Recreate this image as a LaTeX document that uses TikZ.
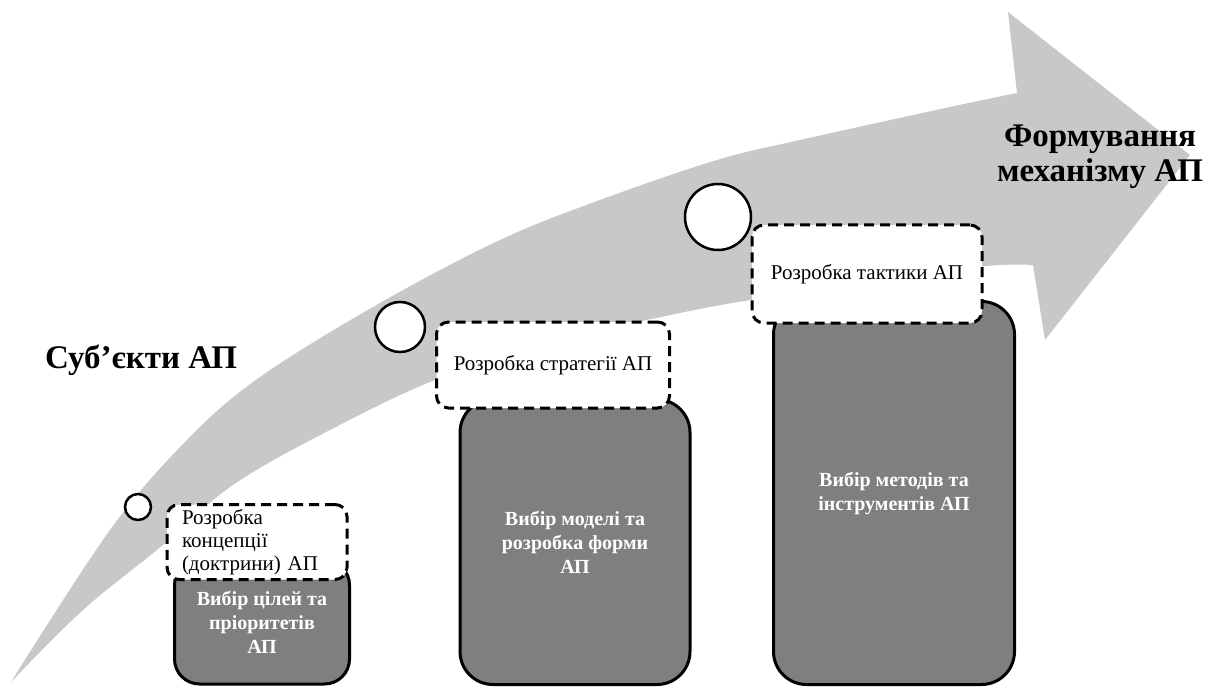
\documentclass[tikz,border=0pt]{standalone}
\usepackage{fontspec}
\setmainfont{Liberation Serif}
\usetikzlibrary{positioning}
\definecolor{bandgray}{HTML}{C8C8C8}
\definecolor{boxgray}{HTML}{7F7F7F}

\begin{document}
\begin{tikzpicture}[
        x=1pt, y=-1pt,
        band/.style={fill=bandgray},
        stage/.style={rectangle, rounded corners=30pt, draw=black, line width=3pt, fill=boxgray, text=white, align=center, font=\fontsize{20}{24}\selectfont\bfseries},
        task/.style={rectangle, rounded corners=12pt, draw=black, line width=3pt, dash pattern=on 10pt off 6pt, fill=white, font=\fontsize{21}{23}\selectfont},
        milestone/.style={circle, draw=black, line width=2.5pt, fill=white, inner sep=0pt},
        caption/.style={font=\fontsize{33}{35}\selectfont\bfseries, align=center},
    ]
        \useasboundingbox (0,0) rectangle (1216,687);

        % curved arrow
        \fill[band] plot[smooth, tension=0.6] coordinates {(11,682) (110,530) (187,440) (260,377) (380,303) (500,240) (600,200) (717,160) (800,140) (950,107) (1017,93)}
            -- (1008,12) -- (1190,155) -- (1045,340) -- (1033,265)
            -- plot[smooth, tension=0.6] coordinates {(1033,265) (987,266) (870,280) (750,300) (680,313) (560,340) (440,378) (330,430) (233,485) (163,545) (83,610) (11,682)} -- cycle;

        \node[caption] (subjects) at (141,360) {Суб’єкти АП};
        \node[caption] (mechanism) at (1100,157) {Формування\\механізму АП};

        \node[stage, minimum width=175pt, minimum height=124pt, rounded corners=25pt] (goals) at (262,622) {Вибір цілей та\\пріоритетів\\АП};
        \node[stage, minimum width=230pt, minimum height=285pt, rounded corners=33pt] (model) at (575,542) {Вибір моделі та\\розробка форми\\АП};
        \node[stage, minimum width=241pt, minimum height=383pt, rounded corners=33pt] (methods) at (894,493) {Вибір методів та\\інструментів АП};

        \node[task, minimum height=75pt, text width=150pt, inner xsep=15pt, align=left] (concept) at (257,542) {Розробка\\концепції\\(доктрини) АП};
        \node[task, minimum width=233pt, minimum height=86pt] (strategy) at (553,365) {Розробка стратегії АП};
        \node[task, minimum width=230pt, minimum height=98pt] (tactics) at (867,274) {Розробка тактики АП};

        \node[milestone, minimum size=26pt] (m1) at (138,507) {};
        \node[milestone, minimum size=50pt] (m2) at (400,327) {};
        \node[milestone, minimum size=66pt] (m3) at (718,217) {};
    \end{tikzpicture}
\end{document}
